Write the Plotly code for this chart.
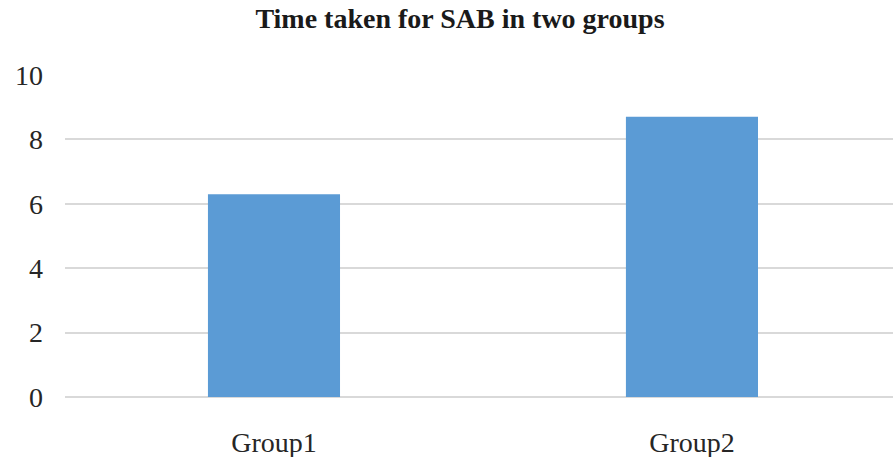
import plotly.graph_objects as go

# Mean time taken for SAB in each group
groups = ["Group1", "Group2"]
time_taken = [6.3, 8.7]
y_ticks = [0, 2, 4, 6, 8, 10]

SERIF = "Liberation Serif, Times New Roman, serif"

fig = go.Figure(
    go.Bar(
        x=groups,
        y=time_taken,
        width=0.316,
        marker=dict(color="#5B9BD5", line=dict(width=0)),
        hoverinfo="x+y",
    )
)

fig.update_layout(
    width=893,
    height=457,
    margin=dict(l=65, r=0, t=75, b=60),
    paper_bgcolor="white",
    plot_bgcolor="white",
    showlegend=False,
    title=dict(
        text="<b>Time taken for SAB in two groups</b>",
        x=460 / 893,
        xanchor="center",
        xref="container",
        y=1 - 18 / 457,
        yanchor="middle",
        yref="container",
        font=dict(family=SERIF, size=28, color="#1a1a1a"),
    ),
    xaxis=dict(
        type="category",
        range=[-0.5, 1.481],
        showgrid=False,
        showline=False,
        zeroline=False,
        ticks="",
        tickfont=dict(family=SERIF, size=28, color="#262626"),
        ticklabelstandoff=26,
    ),
    yaxis=dict(
        range=[0, 10],
        tickvals=y_ticks,
        showgrid=True,
        gridcolor="#d9d9d9",
        gridwidth=1.5,
        zeroline=True,
        zerolinecolor="#d9d9d9",
        zerolinewidth=1.5,
        showline=False,
        ticks="",
        tickfont=dict(family=SERIF, size=28, color="#262626"),
        ticklabelstandoff=21,
    ),
)

fig.write_html("out.html")
